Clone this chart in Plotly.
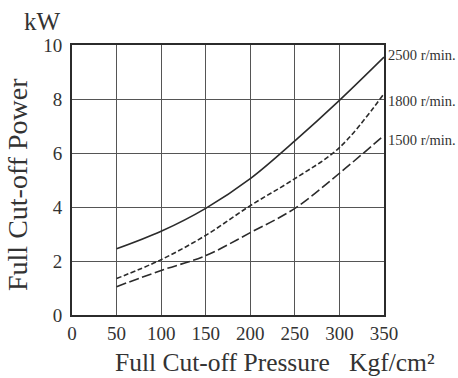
import plotly.graph_objects as go

# Full cut-off pressure (Kgf/cm²) and power (kW) at three spindle speeds
pressure = [50, 100, 150, 200, 250, 300, 350]
power_2500 = [2.45, 3.1, 3.95, 5.05, 6.45, 7.95, 9.55]
power_1800 = [1.35, 2.05, 2.95, 4.05, 5.05, 6.2, 8.2]
power_1500 = [1.05, 1.65, 2.2, 3.05, 3.95, 5.25, 6.65]

speed_labels = ["2500 r/min.", "1800 r/min.", "1500 r/min."]
x_ticks = [0, 50, 100, 150, 200, 250, 300, 350]
y_ticks = [0, 2, 4, 6, 8, 10]

SERIF = "Liberation Serif, Times New Roman, serif"
INK = "#2b2b2b"
TEXT = "#333333"

# plot-area geometry in pixels, used to place the free-standing titles
L, R, T, B = 72, 384, 45, 315
W, H = 458, 378


def px_x(px):
    return (px - L) / (R - L)


def px_y(py):
    return (B - py) / (B - T)


fig = go.Figure()
series = [
    (power_2500, "solid", 2),
    (power_1800, "5px,2.5px", -7),
    (power_1500, "10px,3.5px", -5),
]
for (vals, dash, shift), name in zip(series, speed_labels):
    fig.add_trace(go.Scatter(
        x=pressure, y=vals, mode="lines", name=name,
        line=dict(color=INK, width=1.6, dash=dash, shape="spline", smoothing=1.0),
        showlegend=False,
    ))
    # speed label at the right end of each curve
    fig.add_annotation(
        x=pressure[-1], y=vals[-1], xref="x", yref="y",
        text=name, showarrow=False, xanchor="left", yanchor="middle",
        xshift=2, yshift=shift,
        font=dict(family=SERIF, size=14.5, color=TEXT),
    )

fig.add_annotation(
    x=px_x(63), y=px_y(21), xref="paper", yref="paper", text="kW",
    showarrow=False, xanchor="right", yanchor="middle",
    font=dict(family=SERIF, size=25, color=TEXT),
)
fig.add_annotation(
    x=px_x(113), y=px_y(362), xref="paper", yref="paper",
    text="Full Cut-off Pressure&nbsp;&nbsp;&nbsp;Kgf/cm²", showarrow=False,
    xanchor="left", yanchor="middle",
    font=dict(family=SERIF, size=25.5, color=TEXT),
)
fig.add_annotation(
    x=px_x(17), y=px_y(185), xref="paper", yref="paper",
    text="Full Cut-off Power", showarrow=False, textangle=-90,
    xanchor="center", yanchor="middle",
    font=dict(family=SERIF, size=28, color=TEXT),
)

fig.update_layout(
    width=W, height=H,
    margin=dict(l=L, r=W - R, t=T, b=H - B),
    plot_bgcolor="white", paper_bgcolor="white",
    font=dict(family=SERIF, color=TEXT),
)
fig.update_xaxes(
    range=[0, 350], tickvals=x_ticks, ticks="", showgrid=True,
    gridcolor="#555", gridwidth=1.3, zeroline=False,
    showline=True, linecolor=INK, linewidth=2, mirror=True,
    tickfont=dict(family=SERIF, size=19, color=TEXT), ticklabelstandoff=0,
)
fig.update_yaxes(
    range=[0, 10], tickvals=y_ticks, ticks="", showgrid=True,
    gridcolor="#555", gridwidth=1.3, zeroline=False,
    showline=True, linecolor=INK, linewidth=2, mirror=True,
    tickfont=dict(family=SERIF, size=19, color=TEXT), ticklabelstandoff=4,
)

fig.write_html("out.html")
